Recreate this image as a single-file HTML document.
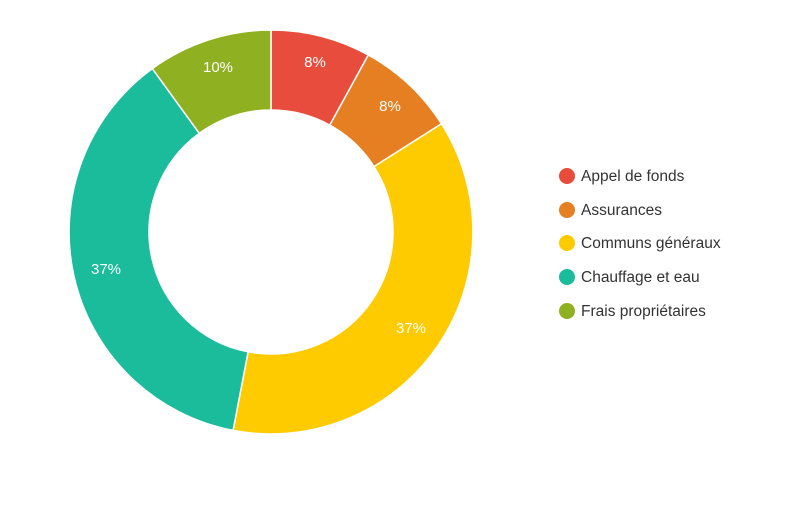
<!DOCTYPE html>
<html><head><meta charset="utf-8"><style>
html,body{margin:0;padding:0;background:#fff;}
svg{display:block;}
text{font-family:"Liberation Sans",sans-serif;}
</style></head><body>
<svg width="796" height="532" viewBox="0 0 796 532" xmlns="http://www.w3.org/2000/svg">
<g stroke="#fff" stroke-width="1.5">
<path d="M271,30 A202,202 0 0 1 368.3,55.0 L329.8,125.1 A122,122 0 0 0 271,110 Z" fill="#e74c3c"/>
<path d="M368.3,55.0 A202,202 0 0 1 441.5,123.8 L374.0,166.6 A122,122 0 0 0 329.8,125.1 Z" fill="#e67e22"/>
<path d="M441.5,123.8 A202,202 0 0 1 233.1,430.4 L248.1,351.8 A122,122 0 0 0 374.0,166.6 Z" fill="#fecb00"/>
<path d="M233.1,430.4 A202,202 0 0 1 152.3,68.6 L199.3,133.3 A122,122 0 0 0 248.1,351.8 Z" fill="#1abc9c"/>
<path d="M152.3,68.6 A202,202 0 0 1 271,30 L271,110 A122,122 0 0 0 199.3,133.3 Z" fill="#8fb021"/>
</g>
<g fill="#fff" font-size="15" text-anchor="middle">
<text x="315" y="67">8%</text>
<text x="390" y="111">8%</text>
<text x="411" y="333">37%</text>
<text x="106" y="274">37%</text>
<text x="218" y="72">10%</text>
</g>
<g font-size="15.5" fill="#333">
<circle cx="567" cy="176" r="8" fill="#e74c3c"/><text x="581" y="181">Appel de fonds</text>
<circle cx="567" cy="210" r="8" fill="#e67e22"/><text x="581" y="215">Assurances</text>
<circle cx="567" cy="243" r="8" fill="#fecb00"/><text x="581" y="248">Communs généraux</text>
<circle cx="567" cy="277" r="8" fill="#1abc9c"/><text x="581" y="282">Chauffage et eau</text>
<circle cx="567" cy="311" r="8" fill="#8fb021"/><text x="581" y="316">Frais propriétaires</text>
</g>
</svg>
</body></html>
